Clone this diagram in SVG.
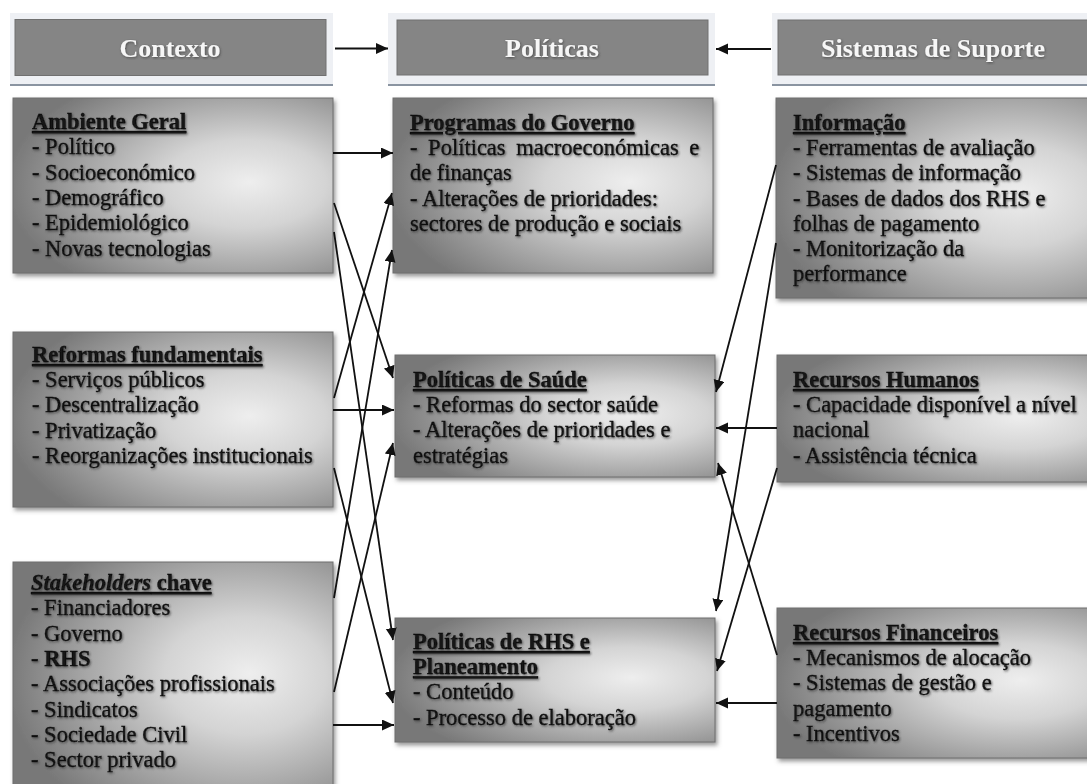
<svg xmlns="http://www.w3.org/2000/svg" width="1087" height="784" viewBox="0 0 1087 784">
  <defs>
    <!-- shaded fill of the content boxes: light centre, grey edges -->
    <radialGradient id="boxFill" cx="0.7" cy="0.5" r="0.72" fx="0.74" fy="0.48">
      <stop offset="0" stop-color="#eeeeee"/>
      <stop offset="0.35" stop-color="#d4d4d4"/>
      <stop offset="1" stop-color="#787878"/>
    </radialGradient>
    <marker id="arrow" markerUnits="userSpaceOnUse" markerWidth="14" markerHeight="12" refX="12" refY="5.5" orient="auto">
      <path d="M0,0 L12,5.5 L0,11 z" fill="#111"/>
    </marker>
    <filter id="boxShadow" x="-5%" y="-5%" width="115%" height="120%">
      <feDropShadow dx="2" dy="3" stdDeviation="2" flood-color="#555" flood-opacity="0.6"/>
    </filter>
    <filter id="textShadow" x="-5%" y="-30%" width="110%" height="160%">
      <feDropShadow dx="1" dy="1.2" stdDeviation="1" flood-color="#333" flood-opacity="0.75"/>
    </filter>
    <filter id="headShadow" x="-5%" y="-30%" width="110%" height="160%">
      <feDropShadow dx="0.8" dy="1" stdDeviation="0.8" flood-color="#333" flood-opacity="0.7"/>
    </filter>
  </defs>
  <style>
    .frame { fill: #eef0f4; }
    .frameLine { fill: #8a94a1; }
    .head { fill: #858585; stroke: #707070; stroke-width: 1; }
    .headText { font-family: "Liberation Serif", "Times New Roman", serif; font-weight: bold; font-size: 26px; fill: #f6f6f6; text-anchor: middle; filter: url(#headShadow); }
    .box { fill: url(#boxFill); stroke: #6e6e6e; stroke-width: 1; filter: url(#boxShadow); }
    .txt { font-family: "Liberation Serif", "Times New Roman", serif; font-size: 22.5px; fill: #121212; stroke: #121212; stroke-width: 0.35; filter: url(#textShadow); }
    .ttl { font-weight: bold; text-decoration: underline; }
    .b { font-weight: bold; }
    .conn line { stroke: #111; stroke-width: 1.8; marker-end: url(#arrow); }
  </style>

  <rect width="1087" height="784" fill="#ffffff"/>

  <!-- column headers -->
  <g id="hdr-contexto">
    <rect class="frame" x="10" y="13" width="323" height="71"/>
    <rect class="frameLine" x="10" y="84" width="323" height="2"/>
    <rect class="head" x="15" y="19.5" width="311" height="56"/>
    <text class="headText" x="170" y="57">Contexto</text>
  </g>
  <g id="hdr-politicas">
    <rect class="frame" x="388" y="13" width="327" height="71"/>
    <rect class="frameLine" x="388" y="84" width="327" height="2"/>
    <rect class="head" x="397" y="20" width="311" height="55"/>
    <text class="headText" x="552" y="57">Políticas</text>
  </g>
  <g id="hdr-sistemas">
    <rect class="frame" x="772" y="13" width="330" height="71"/>
    <rect class="frameLine" x="772" y="84" width="330" height="2"/>
    <rect class="head" x="778" y="20" width="330" height="55"/>
    <text class="headText" x="933" y="57">Sistemas de Suporte</text>
  </g>

  <!-- context column -->
  <g id="ambiente-geral">
    <rect class="box" x="13" y="98" width="320" height="175"/>
    <text class="txt">
      <tspan class="ttl" x="32" y="129">Ambiente Geral</tspan>
      <tspan x="32" y="154.3">- Político</tspan>
      <tspan x="32" y="179.6">- Socioeconómico</tspan>
      <tspan x="32" y="204.9">- Demográfico</tspan>
      <tspan x="32" y="230.2">- Epidemiológico</tspan>
      <tspan x="32" y="255.5">- Novas tecnologias</tspan>
    </text>
  </g>
  <g id="reformas">
    <rect class="box" x="13" y="332" width="320" height="175"/>
    <text class="txt">
      <tspan class="ttl" x="32" y="362">Reformas fundamentais</tspan>
      <tspan x="32" y="387.2">- Serviços públicos</tspan>
      <tspan x="32" y="412.4">- Descentralização</tspan>
      <tspan x="32" y="437.6">- Privatização</tspan>
      <tspan x="32" y="462.8">- Reorganizações institucionais</tspan>
    </text>
  </g>
  <g id="stakeholders">
    <rect class="box" x="13" y="562" width="320" height="232"/>
    <text class="txt">
      <tspan class="ttl" x="31" y="590"><tspan font-style="italic">Stakeholders</tspan> chave</tspan>
      <tspan x="31" y="615.3">- Financiadores</tspan>
      <tspan x="31" y="640.6">- Governo</tspan>
      <tspan x="31" y="665.9">- <tspan class="b">RHS</tspan></tspan>
      <tspan x="31" y="691.2">- Associações profissionais</tspan>
      <tspan x="31" y="716.5">- Sindicatos</tspan>
      <tspan x="31" y="741.8">- Sociedade Civil</tspan>
      <tspan x="31" y="767.1">- Sector privado</tspan>
    </text>
  </g>

  <!-- policy column -->
  <g id="programas-governo">
    <rect class="box" x="393" y="98" width="320" height="175"/>
    <text class="txt">
      <tspan class="ttl" x="410" y="130">Programas do Governo</tspan>
      <tspan x="410" y="155.2" word-spacing="5">- Políticas macroeconómicas e</tspan>
      <tspan x="410" y="180.4">de finanças</tspan>
      <tspan x="410" y="205.6">- Alterações de prioridades:</tspan>
      <tspan x="410" y="230.8">sectores de produção e sociais</tspan>
    </text>
  </g>
  <g id="politicas-saude">
    <rect class="box" x="395" y="355" width="320" height="122"/>
    <text class="txt">
      <tspan class="ttl" x="413" y="387">Políticas de Saúde</tspan>
      <tspan x="413" y="412.2">- Reformas do sector saúde</tspan>
      <tspan x="413" y="437.4">- Alterações de prioridades e</tspan>
      <tspan x="413" y="462.6">estratégias</tspan>
    </text>
  </g>
  <g id="politicas-rhs">
    <rect class="box" x="395" y="618" width="320" height="124"/>
    <text class="txt">
      <tspan class="ttl" x="413" y="649">Políticas de RHS e</tspan>
      <tspan class="ttl" x="413" y="674.2">Planeamento</tspan>
      <tspan x="413" y="699.4">- Conteúdo</tspan>
      <tspan x="413" y="724.6">- Processo de elaboração</tspan>
    </text>
  </g>

  <!-- support systems column -->
  <g id="informacao">
    <rect class="box" x="776" y="98" width="330" height="200"/>
    <text class="txt">
      <tspan class="ttl" x="793" y="130">Informação</tspan>
      <tspan x="793" y="155.2">- Ferramentas de avaliação</tspan>
      <tspan x="793" y="180.4">- Sistemas de informação</tspan>
      <tspan x="793" y="205.6">- Bases de dados dos RHS e</tspan>
      <tspan x="793" y="230.8">folhas de pagamento</tspan>
      <tspan x="793" y="256">- Monitorização da</tspan>
      <tspan x="793" y="281.2">performance</tspan>
    </text>
  </g>
  <g id="recursos-humanos">
    <rect class="box" x="777" y="355" width="330" height="127"/>
    <text class="txt">
      <tspan class="ttl" x="793" y="387">Recursos Humanos</tspan>
      <tspan x="793" y="412.2">- Capacidade disponível a nível</tspan>
      <tspan x="793" y="437.4">nacional</tspan>
      <tspan x="793" y="462.6">- Assistência técnica</tspan>
    </text>
  </g>
  <g id="recursos-financeiros">
    <rect class="box" x="777" y="608" width="330" height="150"/>
    <text class="txt">
      <tspan class="ttl" x="793" y="640">Recursos Financeiros</tspan>
      <tspan x="793" y="665.2">- Mecanismos de alocação</tspan>
      <tspan x="793" y="690.4">- Sistemas de gestão e</tspan>
      <tspan x="793" y="715.6">pagamento</tspan>
      <tspan x="793" y="740.8">- Incentivos</tspan>
    </text>
  </g>

  <!-- connectors -->
  <g id="connectors" class="conn">
    <line x1="335" y1="48.5" x2="388" y2="48.5"/>
    <line x1="771" y1="49" x2="716" y2="49"/>

    <line x1="333" y1="153" x2="393" y2="153"/>
    <line x1="334" y1="203" x2="393" y2="378"/>
    <line x1="334" y1="232" x2="393" y2="640"/>
    <line x1="334" y1="398" x2="392" y2="193"/>
    <line x1="333" y1="410" x2="394" y2="410"/>
    <line x1="334" y1="468" x2="393" y2="703"/>
    <line x1="334" y1="598" x2="392" y2="250"/>
    <line x1="334" y1="692" x2="393" y2="443"/>
    <line x1="333" y1="725" x2="394" y2="725"/>

    <line x1="776" y1="165" x2="716" y2="392"/>
    <line x1="776" y1="243" x2="716" y2="611"/>
    <line x1="777" y1="428" x2="716" y2="428"/>
    <line x1="777" y1="468" x2="717" y2="671"/>
    <line x1="777" y1="655" x2="718" y2="463"/>
    <line x1="777" y1="703" x2="716" y2="703"/>
  </g>
</svg>
